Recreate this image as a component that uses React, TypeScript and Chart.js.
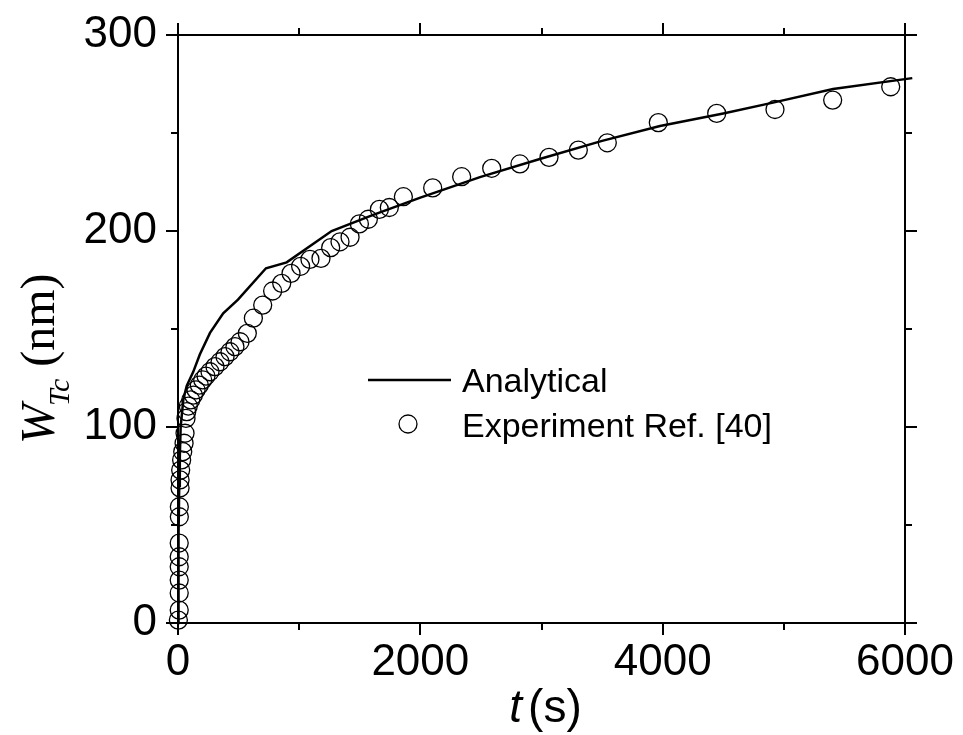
import React, { useEffect, useRef } from "react";
import { Chart, registerables } from "chart.js";

Chart.register(...registerables);

const analyticalT = [0, 3, 6, 10, 15, 22, 44, 72, 125, 180, 264, 373, 495, 726, 897, 1268, 1600, 2000, 2492, 3000, 3500, 3978, 4500, 4911, 5406, 6060];
const analyticalW = [0, 20, 45, 70, 85, 100, 114, 121, 128, 137, 148, 158, 165, 181, 184, 200, 208, 217, 227.5, 237, 246, 253.6, 260, 265.5, 272.4, 278];

const experimentT = [3, 10, 10, 10, 10, 10, 10, 11, 11, 17, 17, 22, 30, 39, 50, 58, 66, 72, 85, 105, 127, 149, 176, 204, 231, 264, 305, 347, 388, 429, 470, 512, 572, 622, 699, 781, 856, 933, 1012, 1089, 1180, 1260, 1337, 1420, 1497, 1571, 1662, 1744, 1860, 2102, 2341, 2589, 2822, 3062, 3304, 3543, 3964, 4446, 4927, 5403, 5882];
const experimentW = [1.5, 6.6, 15.3, 21.9, 28.7, 33.8, 40.8, 54.2, 59.3, 68.9, 73, 78, 83.2, 87.4, 91.7, 96.8, 104.4, 107.8, 110.7, 113.8, 116.3, 118.9, 121.4, 124, 126, 128.2, 130.8, 133.3, 135.9, 138.4, 141, 143.5, 147.8, 155.5, 162.2, 169.4, 173.3, 178.4, 182, 185.5, 186, 191.5, 194.5, 196.8, 203.6, 206, 211, 212, 217.5, 222, 227.7, 232, 234.2, 237.6, 241.3, 245, 255.3, 260, 262, 266.8, 273.6];

const xMajorTicks = [0, 2000, 4000, 6000];
const xMinorTicks = [1000, 3000, 5000];
const yMajorTicks = [0, 100, 200, 300];
const yMinorTicks = [50, 150, 250];

const legendLabels = ["Analytical", "Experiment Ref. [40]"];
const xTitleVar = "t";
const xTitleUnit = "(s)";
const yTitleVar = "W";
const yTitleSub = "Tc";
const yTitleUnit = "(nm)";

const SANS = "'Liberation Sans', Arial, sans-serif";
const SERIF = "'Liberation Serif', 'Times New Roman', serif";

const framePlugin = {
  id: "framePlugin",
  afterDraw(chart: any) {
    const { ctx, chartArea, scales } = chart;
    const { left, right, top, bottom } = chartArea;
    const xs = scales.x;
    const ys = scales.y;
    ctx.save();
    ctx.strokeStyle = "#000";
    ctx.lineWidth = 2;
    ctx.lineCap = "butt";
    ctx.beginPath();
    ctx.moveTo(left, top);
    ctx.lineTo(right, top);
    ctx.lineTo(right, bottom);
    ctx.lineTo(left, bottom);
    ctx.closePath();
    ctx.stroke();

    const drawX = (v: number, len: number) => {
      const px = Math.round(xs.getPixelForValue(v));
      ctx.beginPath();
      ctx.moveTo(px, bottom);
      ctx.lineTo(px, bottom + len);
      ctx.moveTo(px, top);
      ctx.lineTo(px, top - len);
      ctx.stroke();
    };
    const drawY = (v: number, len: number) => {
      const py = Math.round(ys.getPixelForValue(v));
      ctx.beginPath();
      ctx.moveTo(left, py);
      ctx.lineTo(left - len, py);
      ctx.moveTo(right, py);
      ctx.lineTo(right + len, py);
      ctx.stroke();
    };
    xMajorTicks.forEach((v) => drawX(v, 12));
    xMinorTicks.forEach((v) => drawX(v, 7));
    yMajorTicks.forEach((v) => drawY(v, 12));
    yMinorTicks.forEach((v) => drawY(v, 7));

    // Legend
    ctx.fillStyle = "#000";
    ctx.font = `34px ${SANS}`;
    ctx.textBaseline = "alphabetic";
    ctx.textAlign = "left";
    ctx.lineWidth = 2.5;
    ctx.beginPath();
    ctx.moveTo(368, 380);
    ctx.lineTo(451, 380);
    ctx.stroke();
    ctx.fillText(legendLabels[0], 462, 392);
    ctx.lineWidth = 1.3;
    ctx.beginPath();
    ctx.arc(408, 424, 9, 0, Math.PI * 2);
    ctx.stroke();
    ctx.fillText(legendLabels[1], 462, 437);

    // X title
    ctx.font = `italic 46px ${SANS}`;
    const wt = ctx.measureText(xTitleVar).width;
    ctx.font = `46px ${SANS}`;
    const wu = ctx.measureText(xTitleUnit).width;
    const gap = 6;
    const cx = (left + right) / 2;
    const sx = cx - (wt + gap + wu) / 2 + 4;
    ctx.font = `italic 46px ${SANS}`;
    ctx.fillText(xTitleVar, sx, 722);
    ctx.font = `46px ${SANS}`;
    ctx.fillText(xTitleUnit, sx + wt + gap, 722);

    // Y title
    ctx.translate(54, 444);
    ctx.rotate(-Math.PI / 2);
    ctx.font = `italic 48px ${SERIF}`;
    ctx.fillText(yTitleVar, 0, 0);
    const ww = ctx.measureText(yTitleVar).width;
    ctx.font = `italic 30px ${SERIF}`;
    ctx.fillText(yTitleSub, ww - 2, 15);
    const ws = ctx.measureText(yTitleSub).width;
    ctx.font = `48px ${SERIF}`;
    ctx.fillText(yTitleUnit, ww - 2 + ws + 12, 0);
    ctx.restore();
  },
};

export default function App() {
  const ref = useRef<HTMLCanvasElement | null>(null);
  useEffect(() => {
    document.body.style.margin = "0";
    const canvas = ref.current;
    if (!canvas) return;
    const chart = new Chart(canvas, {
      type: "scatter",
      data: {
        datasets: [
          {
            label: legendLabels[0],
            data: analyticalT.map((t, i) => ({ x: t, y: analyticalW[i] })),
            showLine: true,
            borderColor: "#000",
            borderWidth: 2.5,
            pointRadius: 0,
            pointHoverRadius: 0,
            tension: 0,
            clip: false as any,
          },
          {
            label: legendLabels[1],
            data: experimentT.map((t, i) => ({ x: t, y: experimentW[i] })),
            showLine: false,
            borderColor: "#000",
            backgroundColor: "rgba(0,0,0,0)",
            borderWidth: 1.3,
            pointRadius: 9,
            pointStyle: "circle",
            clip: false as any,
          },
        ],
      },
      options: {
        responsive: false,
        animation: false,
        devicePixelRatio: 1,
        layout: { padding: { left: 0, top: 35, right: 58, bottom: 0 } },
        plugins: { legend: { display: false }, tooltip: { enabled: false }, title: { display: false } },
        scales: {
          x: {
            type: "linear",
            min: 0,
            max: 6000,
            border: { display: false },
            grid: { display: false, drawTicks: false },
            afterFit: (s: any) => {
              s.height = 112;
              s.paddingLeft = 0;
              s.paddingRight = 0;
            },
            afterBuildTicks: (s: any) => {
              s.ticks = xMajorTicks.map((v) => ({ value: v }));
            },
            ticks: {
              color: "#000",
              font: { family: SANS, size: 44 },
              padding: 13,
              maxRotation: 0,
              callback: (v: any) => String(v),
            },
          },
          y: {
            type: "linear",
            min: 0,
            max: 300,
            border: { display: false },
            grid: { display: false, drawTicks: false },
            afterFit: (s: any) => {
              s.width = 178;
              s.paddingTop = 0;
              s.paddingBottom = 0;
            },
            afterBuildTicks: (s: any) => {
              s.ticks = yMajorTicks.map((v) => ({ value: v }));
            },
            ticks: {
              color: "#000",
              font: { family: SANS, size: 44 },
              padding: 21,
              callback: (v: any) => String(v),
            },
          },
        },
      },
      plugins: [framePlugin],
    } as any);
    return () => chart.destroy();
  }, []);
  return <canvas ref={ref} width={963} height={735} style={{ display: "block" }} />;
}
